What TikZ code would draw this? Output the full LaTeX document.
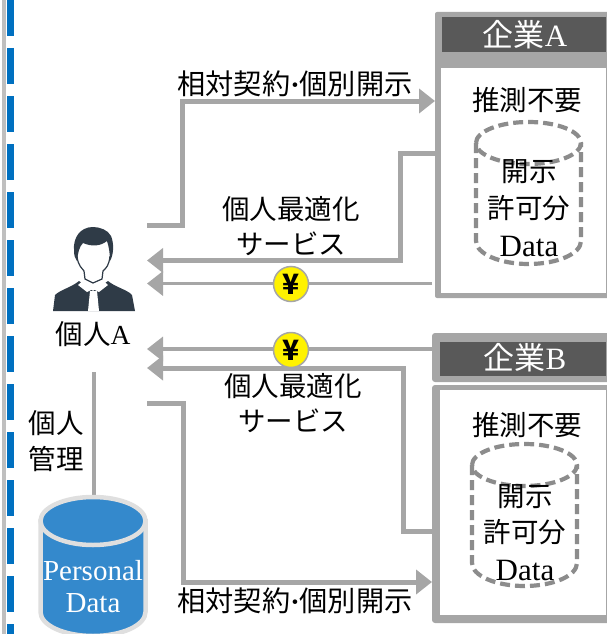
\documentclass[tikz,border=0pt]{standalone}
\usepackage{fontspec}
\setmainfont{Noto Sans CJK JP}
\newfontfamily\latinf{Liberation Serif}
\usetikzlibrary{arrows.meta}
\definecolor{conn}{HTML}{A6A6A6}
\definecolor{hdr}{HTML}{595959}
\definecolor{dbblue}{HTML}{3489CC}
\definecolor{stripe}{HTML}{0070C0}
\definecolor{suit}{HTML}{2F3B47}
\tikzset{
  flow/.style={draw=conn,line width=5pt,-{Triangle[length=16pt,width=24pt]}},
  flowthin/.style={draw=conn,line width=3.5pt,-{Triangle[length=16pt,width=24pt]}},
  lbl/.style={font=\fontsize{27.5}{30}\selectfont,text=black,inner sep=0pt},
  wide/.style={font=\fontsize{28.2}{30}\selectfont,text=black,inner sep=0pt},
  hdrtext/.style={font=\fontsize{31}{34}\selectfont,text=white,inner sep=0pt},
  yen/.style={circle,draw=conn,line width=1.5pt,fill=yellow,minimum size=35pt,inner sep=0pt,font=\fontsize{28}{28}\selectfont\bfseries},
  dashcyl/.style={draw=gray!90,line width=4.2pt,dash pattern=on 10pt off 5pt},
  dattext/.style={font=\fontsize{31}{32}\selectfont\latinf,text=black,inner sep=0pt},
  dbtext/.style={font=\fontsize{29}{32}\selectfont\latinf,text=white,inner sep=0pt},
}
\begin{document}
\begin{tikzpicture}[x=1pt,y=-1pt]
\useasboundingbox (0,0) rectangle (606,634);
% left stripe
\fill[gray!50] (2,0) rectangle (6,634);
\draw[stripe,line width=7pt,dash pattern=on 36pt off 12pt] (10,0) -- (10,634);
% company A
\fill[conn,rounded corners=2pt] (435,12) rectangle (620,298);
\fill[white] (441,68) rectangle (606,293);
\node[fill=hdr,minimum width=164pt,minimum height=35pt,anchor=north west,inner sep=0pt] (hA) at (442,17) {};
\node[hdrtext] (tA) at (525,35) {企業{\latinf A}};
\node[lbl] (gA) at (527,100) {推測不要};
% company B
\fill[conn,rounded corners=3pt] (432,333) rectangle (620,382);
\node[fill=hdr,minimum width=166pt,minimum height=34pt,anchor=north west,inner sep=0pt] (hB) at (440,342) {};
\node[hdrtext] (tB) at (525,358) {企業{\latinf B}};
\fill[conn,rounded corners=3pt] (432,385) rectangle (620,623);
\fill[white] (440,390) rectangle (606,615);
\node[lbl] (gB) at (527,425) {推測不要};
% dashed cylinders
\draw[dashcyl] (476,143) arc[start angle=180,end angle=-180,x radius=52.5pt,y radius=21pt];
\draw[dashcyl] (476,143) -- (476,241) arc[start angle=180,end angle=360,x radius=52.5pt,y radius=23pt] -- (581,143);
\draw[dashcyl] (472,465) arc[start angle=180,end angle=-180,x radius=52.5pt,y radius=21pt];
\draw[dashcyl] (472,465) -- (472,563) arc[start angle=180,end angle=360,x radius=52.5pt,y radius=23pt] -- (577,465);
\node[lbl] (a1) at (529,172) {開示};
\node[lbl] (a2) at (529,208) {許可分};
\node[dattext] (a3) at (529,246) {Data};
\node[lbl] (b1) at (525,497) {開示};
\node[lbl] (b2) at (525,532) {許可分};
\node[dattext] (b3) at (525,570) {Data};
% connectors
\coordinate (p1) at (147,225.5);
\coordinate (p2) at (147,260.5);
\coordinate (p3) at (147,283.5);
\coordinate (p4) at (147,349);
\coordinate (p5) at (147,368);
\coordinate (p6) at (147,403.5);
\coordinate (a5) at (435,101);
\coordinate (a6) at (436,153);
\coordinate (a7) at (432,283.5);
\coordinate (b5) at (434,349);
\coordinate (b6) at (434,531.5);
\coordinate (b7) at (432,582);
\draw[flow] (p1) -| (182.5,101) -- (a5);
\draw[flow] (a6) -| (400,260.5) -- (p2);
\draw[flowthin] (a7) -- (p3);
\draw[flowthin] (b5) -- (p4);
\draw[flow] (b6) -| (403,368) -- (p5);
\draw[flow] (p6) -| (183,582) -- (b7);
\node[yen] (y1) at (291,284) {¥};
\node[yen] (y2) at (291,350) {¥};
% labels
\node[wide] (l1) at (295,84) {相対契約{\latinf\textbf{·}}個別開示};
\node[lbl] (l2) at (291,209) {個人最適化};
\node[lbl] (l3) at (291,244) {サービス};
\node[lbl] (l4) at (293,386) {個人最適化};
\node[lbl] (l5) at (293,421) {サービス};
\node[wide] (l6) at (295,601) {相対契約{\latinf\textbf{·}}個別開示};
\node[lbl] (pa) at (93,334) {個人{\latinf A}};
\node[lbl] (m1) at (56,423) {個人};
\node[lbl] (m2) at (56,459) {管理};
% person icon
\fill[suit] (53,311) -- (55,295) .. controls (60,290) and (72,287) .. (79,281) -- (93,291) -- (108,281) .. controls (115,287) and (128,290) .. (132,295) -- (135,311) -- cycle;
\fill[white] (78,285) -- (85,279) -- (102,279) -- (108,285) -- (99,292) -- (93,289) -- (87,292) -- cycle;
\fill[white] (90,291) -- (97,291) -- (99,311) -- (88,311) -- cycle;
\draw[suit,line width=1.2pt] (77,256) .. controls (78,266) and (82,268) .. (84,271) -- (85,279) -- (93,283) -- (102,279) -- (103,271) .. controls (106,268) and (109,266) .. (110,256);
\fill[suit] (93,227) .. controls (80,227) and (73,238) .. (74,250) .. controls (74,256) and (75,258) .. (77,261) .. controls (78,253) and (79,247) .. (83,243) .. controls (92,247) and (101,246) .. (107,241) .. controls (109,247) and (110,254) .. (110,261) .. controls (114,254) and (114,243) .. (111,236) .. controls (108,230) and (100,227) .. (93,227) -- cycle;
% personal data
\coordinate (mtop) at (94,372);
\coordinate (dbtop) at (94,497);
\draw[conn,line width=4pt] (mtop) -- (dbtop);
\path[fill=dbblue,draw=gray!25,line width=4.5pt] (40.5,521) -- (40.5,612) arc[start angle=180,end angle=360,x radius=52.5pt,y radius=24pt] -- (145.5,521) -- cycle;
\path[fill=dbblue,draw=gray!25,line width=4.5pt] (93,521) ellipse[x radius=52.5pt,y radius=24pt];
\node[dbtext] (d1) at (93,571) {Personal};
\node[dbtext] (d2) at (93,603) {Data};
\end{tikzpicture}
\end{document}
